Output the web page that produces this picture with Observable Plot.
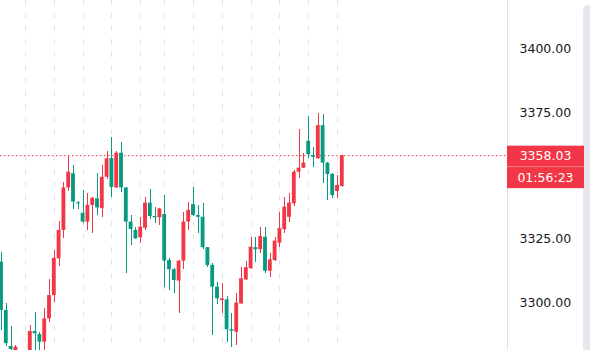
<!DOCTYPE html>
<html><head><meta charset="utf-8">
<script src="https://cdn.jsdelivr.net/npm/d3@7"></script>
<script src="https://cdn.jsdelivr.net/npm/@observablehq/plot@0.6"></script>
<style>
html,body{margin:0;padding:0;background:#fff;overflow:hidden;width:590px;height:350px}
svg{display:block}
</style></head><body><div id="chart"></div>
<script>
// OHLC values of the 72 visible candles (oldest first)
const opens = [3316.0,3296.9,3282.7,3279.0,3279.5,3274.0,3277.0,3288.6,3287.4,3284.4,
  3293.6,3302.8,3317.3,3328.5,3345.3,3350.9,3339.4,3335.3,3331.8,3338.4,
  3341.0,3337.1,3349.5,3356.9,3345.3,3359.0,3345.3,3331.8,3328.5,3325.6,
  3329.4,3339.3,3334.0,3333.5,3334.8,3316.6,3313.0,3308.5,3316.4,3331.8,
  3338.7,3334.4,3333.7,3321.7,3314.7,3306.1,3300.8,3301.1,3289.3,3288.3,
  3299.5,3309.0,3313.4,3321.7,3320.9,3325.8,3312.4,3316.6,3323.5,3328.8,
  3333.7,3339.0,3351.5,3353.1,3363.7,3358.1,3356.8,3369.9,3355.1,3350.6,
  3343.9,3345.9];
const highs = [3319.9,3299.5,3290.6,3283.0,3280.5,3279.0,3291.0,3296.2,3288.3,3297.6,
  3309.0,3320.6,3332.0,3347.6,3357.7,3354.1,3340.1,3344.3,3343.0,3341.6,
  3350.9,3354.1,3359.8,3365.3,3359.8,3363.1,3345.5,3334.4,3329.8,3333.7,
  3341.6,3344.6,3337.7,3337.1,3342.3,3317.3,3313.4,3316.6,3335.7,3339.7,
  3345.3,3338.4,3339.0,3321.8,3315.3,3308.1,3307.4,3302.4,3295.6,3303.5,
  3314.0,3316.4,3325.6,3325.6,3329.5,3329.5,3319.3,3325.6,3335.7,3341.6,
  3343.2,3352.2,3368.2,3358.8,3373.5,3361.4,3374.6,3374.3,3355.3,3350.8,
  3350.2,3358.1];
const lows = [3289.0,3282.7,3280.0,3277.0,3271.0,3270.0,3274.0,3279.0,3280.0,3280.0,
  3292.3,3300.2,3314.3,3325.2,3344.0,3336.7,3336.7,3331.4,3328.5,3327.2,
  3334.4,3333.7,3348.5,3341.6,3344.9,3343.6,3311.4,3322.6,3324.8,3323.2,
  3328.5,3332.7,3331.1,3330.5,3306.1,3304.8,3303.7,3295.8,3313.0,3328.5,
  3334.0,3327.2,3320.9,3313.8,3287.0,3299.3,3295.6,3284.4,3282.4,3283.1,
  3299.3,3308.7,3313.0,3316.0,3319.3,3311.6,3309.8,3316.4,3321.7,3327.3,
  3331.5,3338.0,3348.9,3353.0,3356.8,3353.5,3356.4,3346.9,3340.3,3341.0,
  3341.0,3345.3];
const closes = [3296.9,3283.8,3281.5,3282.4,3274.0,3277.0,3288.6,3287.7,3284.4,3293.6,
  3302.8,3317.5,3328.5,3345.3,3351.5,3339.7,3339.0,3331.8,3338.4,3341.2,
  3337.4,3349.5,3356.8,3345.5,3359.0,3345.3,3331.8,3328.9,3325.2,3329.8,
  3339.3,3334.0,3333.5,3337.0,3316.4,3313.0,3308.7,3316.4,3331.8,3336.4,
  3334.4,3333.7,3321.7,3314.7,3306.1,3301.5,3301.5,3289.3,3288.7,3299.8,
  3309.4,3313.8,3321.9,3320.9,3326.1,3312.4,3316.9,3324.3,3329.2,3337.7,
  3339.3,3351.5,3353.1,3355.1,3358.4,3357.4,3369.9,3355.1,3350.6,3342.3,
  3346.3,3358.03];
// bar indices carrying a vertical grid line
const gridIdx = [5, 11, 17, 23, 29, 34, 40, 46, 52, 58, 64, 70];
// price-scale tick labels (3350 is hidden under the price label)
const yTicks = [3300, 3325, 3375, 3400];
const countdown = "01:56:23";

const candles = opens.map((o, i) => ({
  i, open: o, high: highs[i], low: lows[i], close: closes[i], up: closes[i] >= o
}));
const UP = "#F23645", DOWN = "#089981";
const W = 590, H = 350, MR = 83;
const pxPerBar = 4.8;
const xDomain = [-1 / pxPerBar, (W - MR - 1) / pxPerBar];
const last = closes[closes.length - 1];

const chart = Plot.plot({
  width: W, height: H, marginLeft: 0, marginRight: MR, marginTop: 0, marginBottom: 0,
  style: {fontFamily: "DejaVu Sans", fontSize: "12.5px", color: "#131722", background: "#fff"},
  x: {type: "linear", domain: xDomain, axis: null},
  y: {domain: [3281.1, 3419.3], axis: "right", ticks: yTicks, tickSize: 0, tickPadding: 12,
      tickFormat: d => d.toFixed(2), label: null},
  marks: [
    Plot.ruleX(gridIdx, {x: d => d, stroke: "#dfe2ea", strokeDasharray: "5,8", shapeRendering: "crispEdges"}),
    Plot.ruleY([last], {stroke: UP, strokeDasharray: "1.5,2.5"}),
    Plot.ruleX(candles, {x: "i", y1: "low", y2: "high", stroke: d => d.up ? UP : DOWN,
      shapeRendering: "crispEdges", clip: true}),
    Plot.rect(candles, {
      x1: d => d.i - 0.4, x2: d => d.i + 0.4,
      y1: d => Math.min(d.open, d.close),
      y2: d => Math.max(d.open, d.close, Math.min(d.open, d.close) + 0.4),
      fill: d => d.up ? UP : DOWN, clip: true
    })
  ]
});
document.getElementById("chart").appendChild(chart);

// price-scale decorations drawn from the Plot scales
const svg = d3.select(chart);
const ys = chart.scale("y");
const y0 = ys.apply(last);
const xr = W - MR;
svg.append("line").attr("x1", xr + 0.5).attr("x2", xr + 0.5).attr("y1", 0).attr("y2", H)
  .attr("stroke", "#e0e3eb");
svg.append("rect").attr("x", 583).attr("y", 5).attr("width", 12).attr("height", H)
  .attr("rx", 5).attr("fill", "#e6e8ee");
const g = svg.append("g").attr("font-family", "DejaVu Sans").attr("font-size", "12.5px");
g.append("rect").attr("x", xr).attr("y", y0 - 9.5).attr("width", 77).attr("height", 42.5)
  .attr("fill", UP);
g.append("line").attr("x1", xr).attr("x2", xr + 77).attr("y1", y0 + 11.5).attr("y2", y0 + 11.5)
  .attr("stroke", "rgba(255,255,255,0.35)");
g.append("text").attr("x", xr + 38.5).attr("y", y0 + 0.5).attr("dy", "0.36em")
  .attr("text-anchor", "middle").attr("fill", "#fff").text(last.toFixed(2));
g.append("text").attr("x", xr + 38.5).attr("y", y0 + 22.5).attr("dy", "0.36em")
  .attr("text-anchor", "middle").attr("fill", "#fff").text(countdown);
</script></body></html>
